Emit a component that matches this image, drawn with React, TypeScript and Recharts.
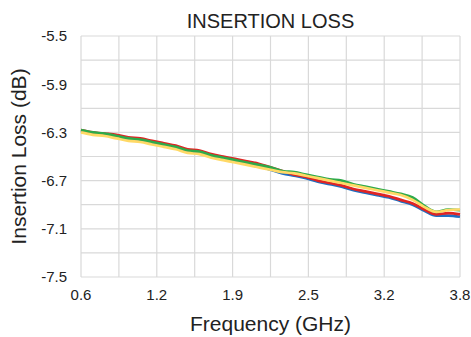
import { LineChart, Line, XAxis, YAxis, CartesianGrid } from 'recharts'

const freq = [
  0.6, 0.7, 0.8, 0.9, 1.0, 1.1, 1.2, 1.3, 1.4, 1.5, 1.6, 1.7, 1.8, 1.9, 2.0, 2.1, 2.2,
  2.3, 2.4, 2.5, 2.6, 2.7, 2.8, 2.9, 3.0, 3.1, 3.2, 3.3, 3.4, 3.5, 3.6, 3.7, 3.8,
]

const blue = [
  -6.29, -6.31, -6.32, -6.34, -6.36, -6.37, -6.39, -6.41, -6.43, -6.46, -6.47, -6.5, -6.52,
  -6.54, -6.56, -6.58, -6.61, -6.64, -6.66, -6.68, -6.71, -6.73, -6.75, -6.78, -6.8, -6.82,
  -6.84, -6.87, -6.9, -6.95, -6.99, -6.99, -7.0,
]
const red = [
  -6.28, -6.3, -6.31, -6.32, -6.34, -6.35, -6.37, -6.39, -6.41, -6.44, -6.45, -6.48, -6.5,
  -6.52, -6.54, -6.56, -6.59, -6.62, -6.65, -6.67, -6.7, -6.72, -6.74, -6.77, -6.79, -6.81,
  -6.83, -6.86, -6.89, -6.94, -6.98, -6.97, -6.98,
]
const green = [
  -6.28, -6.3, -6.31, -6.33, -6.35, -6.36, -6.38, -6.4, -6.42, -6.45, -6.46, -6.49, -6.51,
  -6.53, -6.55, -6.57, -6.59, -6.62, -6.63, -6.65, -6.67, -6.69, -6.7, -6.73, -6.75, -6.77,
  -6.79, -6.81, -6.84, -6.91, -6.96, -6.94, -6.945,
]
const yellow = [
  -6.3, -6.32, -6.33, -6.35, -6.37, -6.38, -6.4, -6.42, -6.44, -6.47, -6.48, -6.51, -6.53,
  -6.55, -6.57, -6.59, -6.61, -6.63, -6.64, -6.66, -6.68, -6.7, -6.72, -6.74, -6.76, -6.78,
  -6.8, -6.82, -6.86, -6.92, -6.96, -6.945, -6.94,
]

const xTicks = [0.6, 0.92, 1.24, 1.56, 1.88, 2.2, 2.52, 2.84, 3.16, 3.48, 3.8]
const yTicks = [-7.5, -7.3, -7.1, -6.9, -6.7, -6.5, -6.3, -6.1, -5.9, -5.7, -5.5]

const data = freq.map((f, i) => ({
  f,
  blue: blue[i],
  red: red[i],
  green: green[i],
  yellow: yellow[i],
}))

const font = '"Liberation Sans", Arial, sans-serif'

export default function App() {
  return (
    <div style={{ position: 'absolute', left: 0, top: 0, width: 471, height: 337, background: '#fff' }}>
      <div
        style={{
          position: 'absolute',
          left: 0,
          top: 8,
          width: 541,
          textAlign: 'center',
          fontFamily: font,
          fontSize: 20,
          lineHeight: '26px',
          color: '#222',
        }}
      >
        INSERTION LOSS
      </div>
      <LineChart width={471} height={337} data={data} margin={{ top: 36, right: 11, left: 0, bottom: 0 }}>
        <CartesianGrid stroke="#d9d9d9" strokeWidth={1.2} />
        <XAxis
          dataKey="f"
          type="number"
          domain={[0.6, 3.8]}
          ticks={xTicks}
          interval={0}
          axisLine={false}
          tickLine={false}
          tickMargin={6}
          height={60}
          tick={{ fill: '#222', fontSize: 15, fontFamily: font }}
          tickFormatter={(v: number, i: number) => (i % 2 === 0 ? v.toFixed(1) : '')}
          label={{
            value: 'Frequency (GHz)',
            position: 'insideBottom',
            offset: 6,
            style: { fill: '#222', fontSize: 21, fontFamily: font },
          }}
        />
        <YAxis
          type="number"
          domain={[-7.5, -5.5]}
          ticks={yTicks}
          interval={0}
          axisLine={false}
          tickLine={false}
          tickMargin={8}
          width={81}
          tick={{ fill: '#222', fontSize: 15, fontFamily: font }}
          tickFormatter={(v: number, i: number) => (i % 2 === 0 ? v.toFixed(1) : '')}
          label={{
            value: 'Insertion Loss (dB)',
            angle: -90,
            position: 'insideLeft',
            offset: 19,
            style: { fill: '#222', fontSize: 21, fontFamily: font, textAnchor: 'middle' },
          }}
        />
        <Line type="monotone" dataKey="blue" stroke="#1f6fc1" strokeWidth={2.7} dot={false} isAnimationActive={false} />
        <Line type="monotone" dataKey="red" stroke="#e02424" strokeWidth={2.7} dot={false} isAnimationActive={false} />
        <Line type="monotone" dataKey="green" stroke="#2eaa4a" strokeWidth={2.7} dot={false} isAnimationActive={false} />
        <Line type="monotone" dataKey="yellow" stroke="#ffd966" strokeWidth={2.7} dot={false} isAnimationActive={false} />
      </LineChart>
    </div>
  )
}
